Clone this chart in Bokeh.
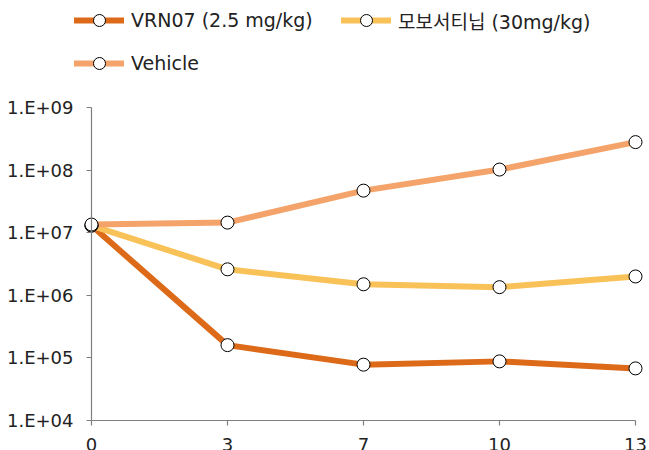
from bokeh.plotting import figure
from bokeh.models import Range1d, FixedTicker, Legend, LegendItem
from bokeh.embed import file_html
from bokeh.resources import INLINE

# Days after dosing (category labels on the x axis)
days = ["0", "3", "7", "10", "13"]

# Tumour signal per group (log scale)
vrn07 = [1.3e7, 1.6e5, 7.8e4, 8.8e4, 6.8e4]
mobocertinib = [1.3e7, 2.6e6, 1.5e6, 1.35e6, 2.0e6]
vehicle = [1.35e7, 1.45e7, 4.7e7, 1.02e8, 2.8e8]

series_names = ["VRN07 (2.5 mg/kg)", "모보서티닙 (30mg/kg)", "Vehicle"]
series_values = [vrn07, mobocertinib, vehicle]
series_colors = ["#DD6A18", "#F9C258", "#F4A46A"]

y_ticks = [1e4, 1e5, 1e6, 1e7, 1e8, 1e9]
y_tick_labels = ["1.E+04", "1.E+05", "1.E+06", "1.E+07", "1.E+08", "1.E+09"]

FONT = "'DejaVu Sans', 'Noto Sans CJK KR', sans-serif"
AXIS_COLOR = "#7f7f7f"

W, H = 649, 450
# pixel placement of the axes inside the canvas
X0_PX, X1_PX = 91, 635          # screen x of first / last day
Y_TOP_PX, Y_BOT_PX = 107, 420   # screen y of 1e9 / 1e4

xs = list(range(len(days)))
px_per_x = (X1_PX - X0_PX) / (xs[-1] - xs[0])
x_start = xs[0] - X0_PX / px_per_x
x_end = xs[-1] + (W - X1_PX) / px_per_x

lo, hi = 4, 9  # decades spanned by the axis
px_per_dec = (Y_BOT_PX - Y_TOP_PX) / (hi - lo)
y_start = 10 ** (lo - (H - Y_BOT_PX) / px_per_dec)
y_end = 10 ** (hi + Y_TOP_PX / px_per_dec)

p = figure(
    width=W, height=H,
    x_range=Range1d(x_start, x_end),
    y_range=Range1d(y_start, y_end),
    y_axis_type="log",
    output_backend="svg", toolbar_location=None,
    min_border=0,
)
p.outline_line_color = None
p.xgrid.visible = False
p.ygrid.visible = False

# x axis: evenly spaced day categories, sitting on the 1e4 line
p.xaxis.ticker = FixedTicker(ticks=xs)
p.xaxis.major_label_overrides = {i: d for i, d in zip(xs, days)}
p.xaxis.bounds = (xs[0], xs[-1])
p.xaxis.fixed_location = y_ticks[0]
p.xaxis.major_label_standoff = 12

# y axis: decades, drawn through the first day
p.yaxis.ticker = FixedTicker(ticks=y_ticks)
p.yaxis.major_label_overrides = {t: l for t, l in zip(y_ticks, y_tick_labels)}
p.yaxis.bounds = (y_ticks[0], y_ticks[-1])
p.yaxis.fixed_location = xs[0]
p.yaxis.major_label_standoff = 13

for ax in (p.xaxis, p.yaxis):
    ax.axis_line_color = AXIS_COLOR
    ax.axis_line_width = 1.2
    ax.minor_tick_line_color = None
    ax.major_tick_line_color = AXIS_COLOR
    ax.major_tick_line_width = 1.2
    ax.major_tick_in = 0
    ax.major_tick_out = 5
    ax.major_label_text_font = FONT
    ax.major_label_text_font_size = "18px"
    ax.major_label_text_color = "#222222"

line_renderers = []
for vals, col in zip(series_values, series_colors):
    line_renderers.append(p.line(xs, vals, line_width=6, line_color=col,
                                 line_cap="round", line_join="round"))

items = []
for name, vals, lr in zip(series_names, series_values, line_renderers):
    sr = p.scatter(xs, vals, size=13, marker="circle",
                   fill_color="white", line_color="black", line_width=1)
    items.append(LegendItem(label=name, renderers=[lr, sr]))


def make_legend(legend_items, loc):
    return Legend(
        items=legend_items,
        location=loc,
        orientation="vertical",
        glyph_width=50, glyph_height=30,
        label_standoff=7,
        spacing=13,
        padding=0, margin=0,
        border_line_color=None,
        background_fill_alpha=0,
        label_text_font=FONT,
        label_text_font_size="19px",
        label_text_color="#222222",
    )


# two legend columns: VRN07 / Vehicle on the left, the comparator on the right
p.add_layout(make_legend([items[0], items[2]], (74, H - 78)), "center")
p.add_layout(make_legend([items[1]], (341, H - 35)), "center")

open("out.html", "w").write(file_html(p, INLINE))
